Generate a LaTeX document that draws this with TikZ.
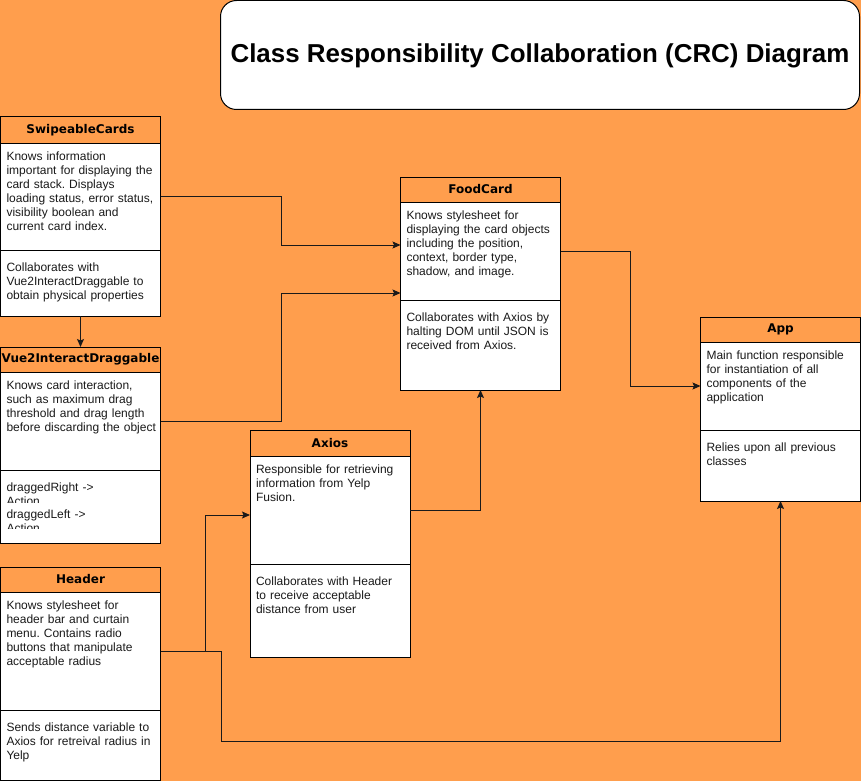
\documentclass[tikz,border=0pt]{standalone}
\usepackage{fontspec}
\setmainfont{Liberation Sans}
\newfontfamily\hdrfamily{DejaVu Sans}
\usetikzlibrary{arrows.meta,calc}
\frenchspacing
\definecolor{bgorange}{HTML}{FF9E4D}
\definecolor{ink}{HTML}{1A1A1A}
\newcommand{\bodyfont}{\fontsize{12}{14}\selectfont}
\newcommand{\hdrfont}{\hdrfamily\bfseries\fontsize{12}{14}\selectfont}
\newcommand{\crcbox}[9]{%
  \node[hdrbox, minimum height={#4pt-#3pt}] (#1-h) at (#2,#3) {#7};
  \node[secbox, minimum height={#5pt-#4pt}] (#1-b) at (#2,#4) {};
  \node[secbox, minimum height={#6pt-#5pt}] (#1-c) at (#2,#5) {};
  \node[bodytxt] (#1-bt) at ($(#1-b.north west)+(6,7.8)$) {\strut #8};
  \node[bodytxt] (#1-ct) at ($(#1-c.north west)+(6,11.9)$) {\strut #9};
}
\begin{document}
\frenchspacing
\begin{tikzpicture}[x=1pt,y=-1pt,
  hdrbox/.style={draw=black, line width=1pt, fill=bgorange, minimum width=160pt,
    inner sep=0pt, outer sep=0pt, anchor=north west, font=\hdrfont, text=black},
  secbox/.style={draw=black, line width=1pt, fill=white, minimum width=160pt,
    inner sep=0pt, outer sep=0pt, anchor=north west},
  bodytxt/.style={anchor=north west, inner sep=0pt, outer sep=0pt, font=\bodyfont,
    text width=156pt, align=left, text=ink},
  conn/.style={draw=ink, line width=1pt, -{Stealth[length=8pt,width=7pt,inset=1.5pt]}},
  titlebox/.style={draw=black, line width=1pt, fill=white, rounded corners=16pt,
    minimum width=639pt, minimum height=109pt, inner sep=0pt,
    font=\bfseries\fontsize{25.9}{30}\selectfont}
]
\useasboundingbox (0,0) rectangle (861,781);
\fill[bgorange] (0,0) rectangle (861,781);

\node[titlebox] (title) at (540,55) {};
\node[font=\bfseries\fontsize{25.9}{30}\selectfont, inner sep=0pt] (titletxt) at (540,56.3) {Class Responsibility Collaboration (CRC) Diagram};

\crcbox{sw}{0.5}{117}{143}{250}{316}{SwipeableCards}%
  {Knows information\\important for displaying the\\card stack. Displays\\loading status, error status,\\visibility boolean and\\current card index.}%
  {Collaborates with\\Vue2InteractDraggable to\\obtain physical properties}

\crcbox{v2}{0.5}{347}{372}{470}{543}{Vue2InteractDraggable}%
  {Knows card interaction,\\such as maximum drag\\threshold and drag length\\before discarding the object}%
  {}

\begin{scope}
  \clip (0,471) rectangle (160,502.7);
  \node[bodytxt] (v2-r1) at (6.5,481.8) {\strut draggedRight ->\\Action};
\end{scope}
\begin{scope}
  \clip (0,503) rectangle (160,528.7);
  \node[bodytxt] (v2-r2) at (6.5,508.2) {\strut draggedLeft ->\\Action};
\end{scope}

\crcbox{hd}{0.5}{567}{592}{710}{780}{Header}%
  {Knows stylesheet for\\header bar and curtain\\menu. Contains radio\\buttons that manipulate\\acceptable radius}%
  {Sends distance variable to\\Axios for retreival radius in\\Yelp}

\crcbox{ax}{250}{430}{456}{564}{657}{Axios}%
  {Responsible for retrieving\\information from Yelp\\Fusion.}%
  {Collaborates with Header\\to receive acceptable\\distance from user}

\crcbox{fc}{400.5}{177}{202}{300}{390}{FoodCard}%
  {Knows stylesheet for\\displaying the card objects\\including the position,\\context, border type,\\shadow, and image.}%
  {Collaborates with Axios by\\halting DOM until JSON is\\received from Axios.}

\crcbox{app}{700.5}{317}{342}{430}{501}{App}%
  {Main function responsible\\for instantiation of all\\components of the\\application}%
  {Relies upon all previous\\classes}

\coordinate (fcin1) at ($(fc-b.north west)+(0,43)$);
\coordinate (fcin2) at ($(fc-b.north west)+(0,91)$);
\coordinate (axin) at ($(ax-b.west)+(0,5)$);

\draw[conn] (sw-c.south) -- (v2-h.north);
\draw[conn] (sw-b.east) -- ++(120.5,0) |- (fcin1);
\draw[conn] (v2-b.east) -- ++(120.5,0) |- (fcin2);
\draw[conn] (fc-b.east) -- ++(69.5,0) |- (app-b.west);
\draw[conn] (ax-b.east) -| (fc-c.south);
\draw[conn] (hd-b.east) -- ++(44.5,0) |- (axin);
\draw[conn] (hd-b.east) -- ++(60.5,0) -- ++(0,90) -| (app-c.south);
\end{tikzpicture}
\end{document}
